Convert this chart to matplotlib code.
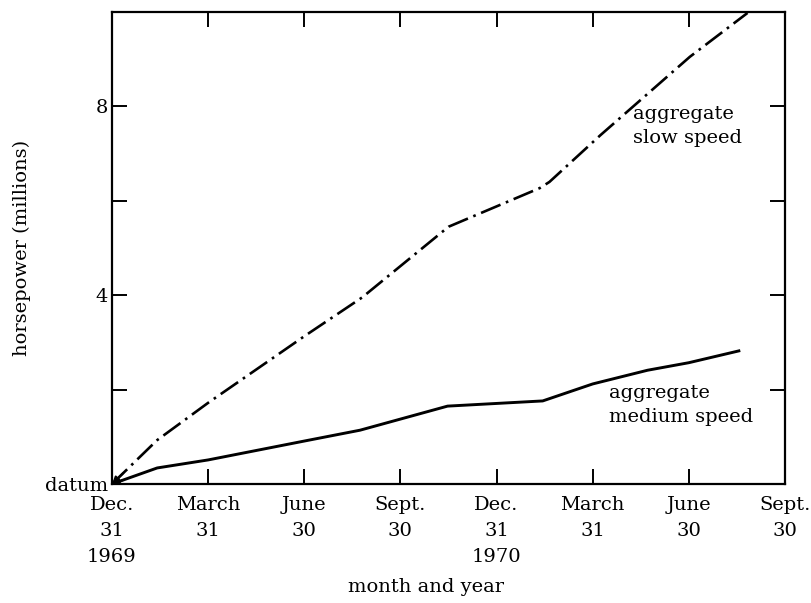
import matplotlib
matplotlib.use("Agg")
import matplotlib.pyplot as plt

# quarters since Dec. 31 1969 -> horsepower (millions)
slow_x = [0, 0.47, 1.0, 2.0, 2.6, 3.5, 4.45, 4.55, 5.08, 6.01, 6.61]
slow_y = [0, 0.93, 1.72, 3.13, 3.95, 5.45, 6.27, 6.40, 7.39, 9.05, 9.98]
medium_x = [0, 0.47, 1.0, 2.0, 2.58, 3.49, 4.48, 5.0, 5.57, 6.0, 6.52]
medium_y = [0, 0.34, 0.51, 0.91, 1.14, 1.65, 1.76, 2.12, 2.41, 2.57, 2.82]

tick_pos = [0, 1, 2, 3, 4, 5, 6, 7]
tick_labels = ["Dec.\n31\n1969", "March\n31", "June\n30", "Sept.\n30",
               "Dec.\n31\n1970", "March\n31", "June\n30", "Sept.\n30"]
ytick_pos = [0, 2, 4, 6, 8, 10]
ytick_labels = ["datum", "", "4", "", "8", ""]

plt.rcParams['font.family'] = ['DejaVu Serif']
fs = 14

fig = plt.figure(figsize=(8.11, 6.03), dpi=100)
ax = fig.add_axes([112 / 811, 1 - 484 / 603, 673 / 811, 472 / 603])

ax.plot(slow_x, slow_y, color='black', lw=1.9,
        linestyle=(0, (8, 2.2, 1, 2.2)), solid_capstyle='butt')
ax.plot(medium_x, medium_y, color='black', lw=2.1)

# small arrowheads at the datum
for xs, ys in [(slow_x, slow_y), (medium_x, medium_y)]:
    ax.annotate('', xy=(xs[0], ys[0]), xytext=(xs[1] * 0.25, ys[1] * 0.25),
                arrowprops=dict(arrowstyle='-|>', color='black', lw=1.5,
                                mutation_scale=10, shrinkA=0, shrinkB=0))

ax.text(5.42, 7.58, "aggregate\nslow speed", fontsize=fs, ha='left', va='center',
        linespacing=1.4)
ax.text(5.17, 1.67, "aggregate\nmedium speed", fontsize=fs, ha='left', va='center',
        linespacing=1.4)

ax.set_xlim(0, 7)
ax.set_ylim(0, 10)
ax.set_xticks(tick_pos)
ax.set_xticklabels(tick_labels, fontsize=fs, linespacing=1.55, va='top')
ax.set_yticks(ytick_pos)
ax.set_yticklabels(ytick_labels, fontsize=fs)
ax.tick_params(direction='in', length=11, width=1.4, top=True, right=True)
ax.tick_params(axis='x', pad=9)
ax.tick_params(axis='y', pad=3)
for s in ax.spines.values():
    s.set_linewidth(1.6)

ax.set_xlabel("month and year", fontsize=fs)
ax.xaxis.set_label_coords((426 - 112) / 673, -0.2)
ax.set_ylabel("horsepower (millions)", fontsize=fs)
ax.yaxis.set_label_coords(-0.12, 0.5)

fig.savefig("out.png", dpi=100)
